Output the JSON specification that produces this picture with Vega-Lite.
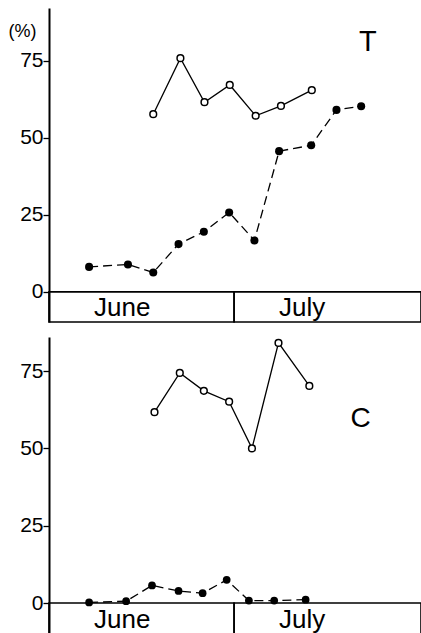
{
  "$schema": "https://vega.github.io/schema/vega-lite/v6.json",
  "autosize": {"type": "pad"},
  "padding": {"left": 8, "top": 8, "right": 0, "bottom": 0},
  "background": "white",
  "spacing": 13,
  "config": {
    "view": {"stroke": null},
    "font": "Liberation Sans",
    "axis": {"labelFont": "Liberation Sans", "titleFont": "Liberation Sans"}
  },
  "datasets": {
    "obs": [
      {"panel": "T", "series": "open", "day": 16.9, "value": 57.7},
      {"panel": "T", "series": "open", "day": 21.3, "value": 75.9},
      {"panel": "T", "series": "open", "day": 25.2, "value": 61.6},
      {"panel": "T", "series": "open", "day": 29.3, "value": 67.2},
      {"panel": "T", "series": "open", "day": 33.5, "value": 57.2},
      {"panel": "T", "series": "open", "day": 37.6, "value": 60.4},
      {"panel": "T", "series": "open", "day": 42.6, "value": 65.5},
      {"panel": "T", "series": "filled", "day": 6.5, "value": 8.1},
      {"panel": "T", "series": "filled", "day": 12.8, "value": 8.9},
      {"panel": "T", "series": "filled", "day": 16.9, "value": 6.3},
      {"panel": "T", "series": "filled", "day": 21.0, "value": 15.5},
      {"panel": "T", "series": "filled", "day": 25.1, "value": 19.5},
      {"panel": "T", "series": "filled", "day": 29.2, "value": 25.8},
      {"panel": "T", "series": "filled", "day": 33.3, "value": 16.7},
      {"panel": "T", "series": "filled", "day": 37.3, "value": 45.7},
      {"panel": "T", "series": "filled", "day": 42.5, "value": 47.6},
      {"panel": "T", "series": "filled", "day": 46.6, "value": 59.1},
      {"panel": "T", "series": "filled", "day": 50.6, "value": 60.3},
      {"panel": "C", "series": "open", "day": 17.1, "value": 61.7},
      {"panel": "C", "series": "open", "day": 21.2, "value": 74.4},
      {"panel": "C", "series": "open", "day": 25.1, "value": 68.6},
      {"panel": "C", "series": "open", "day": 29.2, "value": 65.1},
      {"panel": "C", "series": "open", "day": 32.9, "value": 50.0},
      {"panel": "C", "series": "open", "day": 37.2, "value": 84.1},
      {"panel": "C", "series": "open", "day": 42.2, "value": 70.2},
      {"panel": "C", "series": "filled", "day": 6.5, "value": 0.2},
      {"panel": "C", "series": "filled", "day": 12.5, "value": 0.6},
      {"panel": "C", "series": "filled", "day": 16.7, "value": 5.7},
      {"panel": "C", "series": "filled", "day": 21.0, "value": 3.9},
      {"panel": "C", "series": "filled", "day": 24.9, "value": 3.2},
      {"panel": "C", "series": "filled", "day": 28.8, "value": 7.5},
      {"panel": "C", "series": "filled", "day": 32.4, "value": 0.8},
      {"panel": "C", "series": "filled", "day": 36.5, "value": 0.8},
      {"panel": "C", "series": "filled", "day": 41.6, "value": 1.1}
    ],
    "months": [
      {"month": "June", "start": 0, "end": 30},
      {"month": "July", "start": 30, "end": 60.3}
    ]
  },
  "vconcat": [
    {
      "width": 372,
      "height": 314,
      "layer": [
        {
          "data": {"name": "months"},
          "mark": {"type": "rect", "fill": null, "stroke": "black", "strokeWidth": 1.6},
          "encoding": {
            "x": {"field": "start", "type": "quantitative", "scale": {"domain": [0, 60.3], "nice": false}, "axis": null},
            "x2": {"field": "end"},
            "y": {"datum": 0, "type": "quantitative", "scale": {"domain": [-9.8, 92.2], "nice": false},
              "axis": {"values": [0, 25, 50, 75], "domainColor": "black", "domainWidth": 2, "tickColor": "black", "tickWidth": 1.3, "tickSize": 6, "labelFontSize": 21, "labelColor": "black", "labelPadding": 0,
                "title": "(%)", "titleAngle": 0, "titleAlign": "center", "titleBaseline": "middle", "titleX": -27, "titleY": 23, "titleFontSize": 18, "titleFontWeight": "normal", "titleColor": "black"}},
            "y2": {"datum": -9.8}
          }
        },
        {
          "data": {"name": "months"},
          "mark": {"type": "text", "fontSize": 26, "align": "left", "baseline": "middle", "dx": 45, "dy": 1, "color": "black"},
          "encoding": {
            "x": {"field": "start", "type": "quantitative"},
            "y": {"datum": -4.9, "type": "quantitative"},
            "text": {"field": "month"}
          }
        },
        {
          "data": {"name": "obs"},
          "transform": [{"filter": "datum.panel === 'T' && datum.series === 'filled'"}],
          "mark": {"type": "line", "color": "black", "strokeWidth": 1.3, "strokeDash": [9, 5]},
          "encoding": {"x": {"field": "day", "type": "quantitative"}, "y": {"field": "value", "type": "quantitative"}}
        },
        {
          "data": {"name": "obs"},
          "transform": [{"filter": "datum.panel === 'T' && datum.series === 'open'"}],
          "mark": {"type": "line", "color": "black", "strokeWidth": 1.3},
          "encoding": {"x": {"field": "day", "type": "quantitative"}, "y": {"field": "value", "type": "quantitative"}}
        },
        {
          "data": {"name": "obs"},
          "transform": [{"filter": "datum.panel === 'T' && datum.series === 'filled'"}],
          "mark": {"type": "point", "shape": "circle", "filled": true, "color": "black", "opacity": 1, "size": 65},
          "encoding": {"x": {"field": "day", "type": "quantitative"}, "y": {"field": "value", "type": "quantitative"}}
        },
        {
          "data": {"name": "obs"},
          "transform": [{"filter": "datum.panel === 'T' && datum.series === 'open'"}],
          "mark": {"type": "point", "shape": "circle", "filled": true, "fill": "white", "stroke": "black", "strokeWidth": 1.5, "opacity": 1, "size": 45},
          "encoding": {"x": {"field": "day", "type": "quantitative"}, "y": {"field": "value", "type": "quantitative"}}
        },
        {
          "data": {"values": [{"label": "T"}]},
          "mark": {"type": "text", "fontSize": 29, "align": "center", "baseline": "middle", "color": "black"},
          "encoding": {"x": {"datum": 51.7, "type": "quantitative"}, "y": {"datum": 81, "type": "quantitative"}, "text": {"field": "label"}}
        }
      ]
    },
    {
      "width": 372,
      "height": 297,
      "layer": [
        {
          "data": {"name": "months"},
          "mark": {"type": "rect", "fill": null, "stroke": "black", "strokeWidth": 1.6},
          "encoding": {
            "x": {"field": "start", "type": "quantitative", "scale": {"domain": [0, 60.3], "nice": false}, "axis": null},
            "x2": {"field": "end"},
            "y": {"datum": 0, "type": "quantitative", "scale": {"domain": [-10, 86], "nice": false},
              "axis": {"values": [0, 25, 50, 75], "domainColor": "black", "domainWidth": 2, "tickColor": "black", "tickWidth": 1.3, "tickSize": 6, "labelFontSize": 21, "labelColor": "black", "labelPadding": 0, "title": null}},
            "y2": {"datum": -10}
          }
        },
        {
          "data": {"name": "months"},
          "mark": {"type": "text", "fontSize": 26, "align": "left", "baseline": "middle", "dx": 45, "dy": 1, "color": "black"},
          "encoding": {
            "x": {"field": "start", "type": "quantitative"},
            "y": {"datum": -5, "type": "quantitative"},
            "text": {"field": "month"}
          }
        },
        {
          "data": {"name": "obs"},
          "transform": [{"filter": "datum.panel === 'C' && datum.series === 'filled'"}],
          "mark": {"type": "line", "color": "black", "strokeWidth": 1.3, "strokeDash": [9, 5]},
          "encoding": {"x": {"field": "day", "type": "quantitative"}, "y": {"field": "value", "type": "quantitative"}}
        },
        {
          "data": {"name": "obs"},
          "transform": [{"filter": "datum.panel === 'C' && datum.series === 'open'"}],
          "mark": {"type": "line", "color": "black", "strokeWidth": 1.3},
          "encoding": {"x": {"field": "day", "type": "quantitative"}, "y": {"field": "value", "type": "quantitative"}}
        },
        {
          "data": {"name": "obs"},
          "transform": [{"filter": "datum.panel === 'C' && datum.series === 'filled'"}],
          "mark": {"type": "point", "shape": "circle", "filled": true, "color": "black", "opacity": 1, "size": 60},
          "encoding": {"x": {"field": "day", "type": "quantitative"}, "y": {"field": "value", "type": "quantitative"}}
        },
        {
          "data": {"name": "obs"},
          "transform": [{"filter": "datum.panel === 'C' && datum.series === 'open'"}],
          "mark": {"type": "point", "shape": "circle", "filled": true, "fill": "white", "stroke": "black", "strokeWidth": 1.5, "opacity": 1, "size": 45},
          "encoding": {"x": {"field": "day", "type": "quantitative"}, "y": {"field": "value", "type": "quantitative"}}
        },
        {
          "data": {"values": [{"label": "C"}]},
          "mark": {"type": "text", "fontSize": 28, "align": "center", "baseline": "middle", "color": "black"},
          "encoding": {"x": {"datum": 50.5, "type": "quantitative"}, "y": {"datum": 59.5, "type": "quantitative"}, "text": {"field": "label"}}
        }
      ]
    }
  ]
}
